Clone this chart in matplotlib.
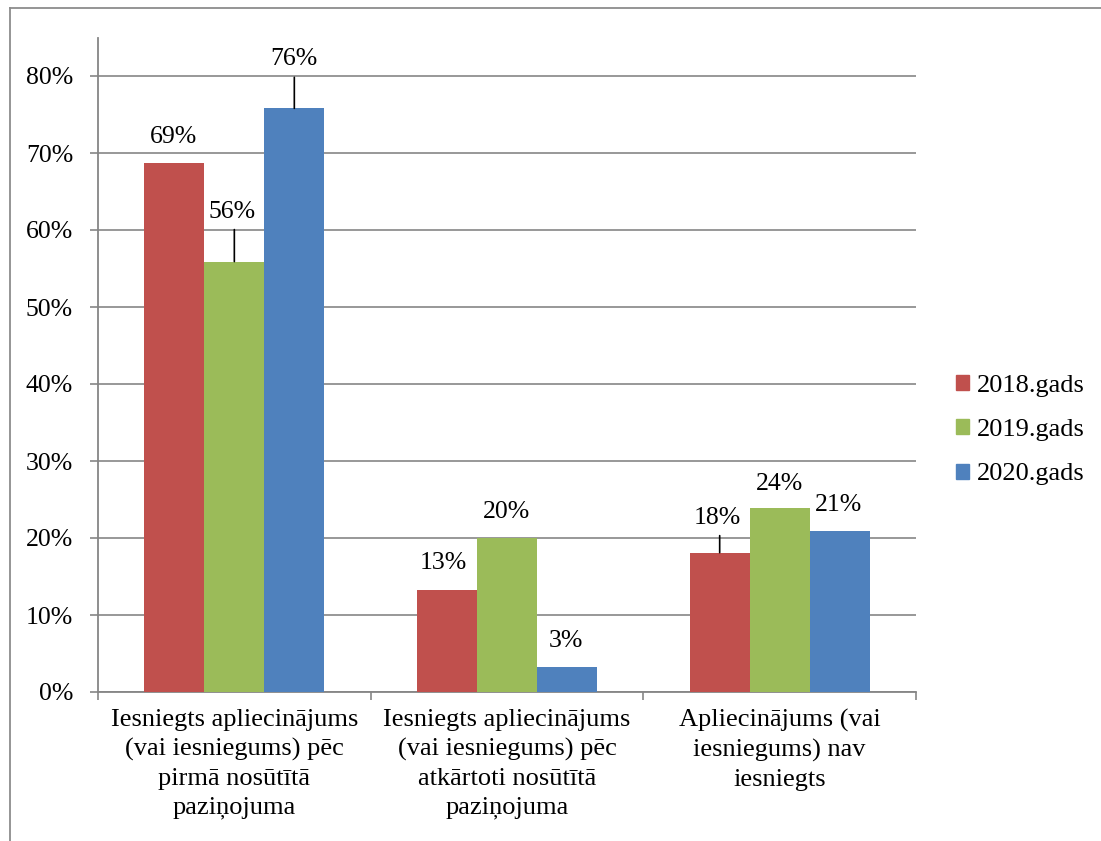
import matplotlib
matplotlib.use("Agg")
import matplotlib.pyplot as plt
from matplotlib.patches import Rectangle
from matplotlib.lines import Line2D
import numpy as np

categories = [
    "Iesniegts apliecinājums\n(vai iesniegums) pēc\npirmā nosūtītā\npaziņojuma",
    "Iesniegts apliecinājums\n(vai iesniegums) pēc\natkārtoti nosūtītā\npaziņojuma",
    "Apliecinājums (vai\niesniegums) nav\niesniegts",
]
series_names = ["2018.gads", "2019.gads", "2020.gads"]
values_2018 = [0.687, 0.132, 0.181]
values_2019 = [0.559, 0.200, 0.239]
values_2020 = [0.758, 0.032, 0.209]
labels_2018 = ["69%", "13%", "18%"]
labels_2019 = ["56%", "20%", "24%"]
labels_2020 = ["76%", "3%", "21%"]
yticks = [0, 0.1, 0.2, 0.3, 0.4, 0.5, 0.6, 0.7, 0.8]
ytick_labels = ["0%", "10%", "20%", "30%", "40%", "50%", "60%", "70%", "80%"]

colors = ["#C0504D", "#9BBB59", "#4F81BD"]
grid_color = "#868686"

# label layout: (dx px, dy px above bar top, leader line?)
label_layout = [
    [(-1, 26, False), (-4, 27, False), (-2, 35, True)],
    [(-2, 50, True), (0, 26, False), (0, 24, False)],
    [(0, 49, True), (-1, 26, False), (-1, 26, False)],
]

plt.rcParams["font.family"] = ["Liberation Serif", "DejaVu Serif"]
FS_LAB = 18.5
FS_TICK = 18.5
FS_CAT = 19
FS_LEG = 19

W, H = 1101, 841
fig = plt.figure(figsize=(W / 100, H / 100), dpi=100)
ax = fig.add_axes([98 / W, (H - 692) / H, (916 - 98) / W, (692 - 37.5) / H])

x = np.arange(len(categories))
bw = 0.22
all_vals = [values_2018, values_2019, values_2020]
all_labels = [labels_2018, labels_2019, labels_2020]
for i, (vals, labs) in enumerate(zip(all_vals, all_labels)):
    pos = x + (i - 1) * bw
    ax.bar(pos, vals, width=bw, color=colors[i], zorder=3, label=series_names[i])
    for j, (p, v, lab) in enumerate(zip(pos, vals, labs)):
        dx, dy, leader = label_layout[i][j]
        ax.annotate(lab, (p, v), xytext=(dx, dy), textcoords="offset pixels",
                    ha="center", va="center", fontsize=FS_LAB, zorder=5)
        if leader:
            ax.annotate("", (p, v), xytext=(0, dy - 18), textcoords="offset pixels",
                        arrowprops=dict(arrowstyle="-", color="black", lw=1.2,
                                        shrinkA=0, shrinkB=0), zorder=5)

ax.set_xlim(-0.5, 2.5)
ax.set_ylim(0, 0.85)
ax.set_yticks(yticks)
ax.set_yticklabels(ytick_labels, fontsize=FS_TICK)
ax.set_xticks(x)
ax.set_xticklabels(categories, fontsize=FS_CAT, linespacing=1.4)
ax.set_xticks([-0.5, 0.5, 1.5, 2.5], minor=True)
ax.tick_params(axis="x", which="major", length=0, pad=12)
ax.tick_params(axis="x", which="minor", length=6, width=1.2, color=grid_color, direction="out")
ax.tick_params(axis="y", length=6, width=1.2, color=grid_color, direction="out", pad=12)
ax.yaxis.grid(True, color=grid_color, lw=1.2, zorder=0)
ax.set_axisbelow(True)
for s in ["top", "right"]:
    ax.spines[s].set_visible(False)
for s in ["left", "bottom"]:
    ax.spines[s].set_color(grid_color)
    ax.spines[s].set_linewidth(1.3)

handles = [Rectangle((0, 0), 1, 1, color=c) for c in colors]
fig.legend(handles, series_names, loc="center left",
           bbox_to_anchor=(956 / W, (H - 430) / H), frameon=False, fontsize=FS_LEG,
           handlelength=0.5, handleheight=0.5, handletextpad=0.3, labelspacing=0.85,
           borderpad=0, borderaxespad=0)

# outer chart frame (left and top edges)
fig.add_artist(Line2D([10 / W, 10 / W], [0, (H - 8) / H], color="#8c8c8c", lw=1.3))
fig.add_artist(Line2D([10 / W, 1], [(H - 8) / H, (H - 8) / H], color="#8c8c8c", lw=1.3))

fig.savefig("out.png", dpi=100)
